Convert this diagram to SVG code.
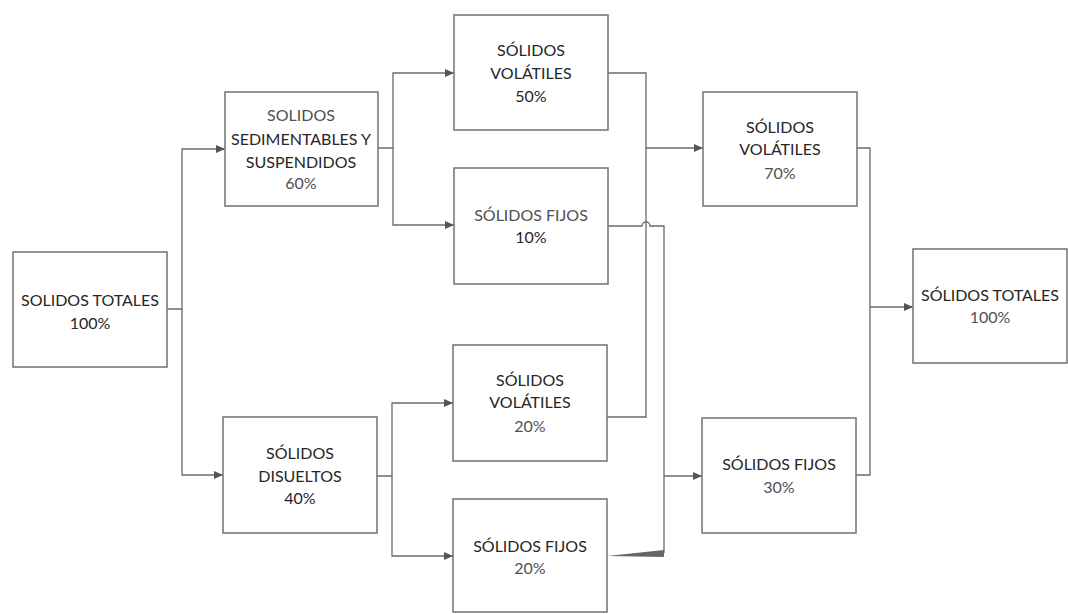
<svg xmlns="http://www.w3.org/2000/svg" width="1068" height="614" viewBox="0 0 1068 614">
<style>
.box{fill:#fff;stroke:#7a7a7a;stroke-width:1.6}
.t{font-family:Lato,"Noto Sans","Liberation Sans",sans-serif;font-size:16px;text-anchor:middle;fill:#262626}
.l{fill:#505050}
.c{fill:none;stroke:#6a6a6a;stroke-width:1.3}
</style>
<defs>
<marker id="ah" markerUnits="userSpaceOnUse" markerWidth="9" markerHeight="8" refX="9" refY="4" orient="auto">
<path d="M0,0 L9,4 L0,8 z" fill="#555"/>
</marker>
</defs>
<rect width="1068" height="614" fill="#fff"/>
<g id="connectors">
<path class="c" d="M167,309 H182 V149 H225" marker-end="url(#ah)"/>
<path class="c" d="M182,309 V475 H223" marker-end="url(#ah)"/>
<path class="c" d="M378,148 H393 V73 H454" marker-end="url(#ah)"/>
<path class="c" d="M393,148 V225 H454" marker-end="url(#ah)"/>
<path class="c" d="M377,476 H392 V403 H453" marker-end="url(#ah)"/>
<path class="c" d="M392,476 V556 H453" marker-end="url(#ah)"/>
<path class="c" d="M608,73 H646 V417 H607"/>
<path class="c" d="M646,148 H703" marker-end="url(#ah)"/>
<path class="c" d="M608,226 H642 a4,4 0 0 1 8,0 H664 V553"/>
<polygon points="607,556 664,550 664,557" fill="#666"/>
<path class="c" d="M664,476 H702" marker-end="url(#ah)"/>
<path class="c" d="M857,148 H870 V475 H856"/>
<path class="c" d="M870,307 H913" marker-end="url(#ah)"/>
</g>
<g id="n1"><rect class="box" x="13" y="252" width="154" height="115"/>
<text class="t" x="90" y="306">SOLIDOS TOTALES</text><text class="t" x="90" y="329">100%</text></g>
<g id="n2"><rect class="box" x="225" y="92" width="153" height="114"/>
<text class="t l" x="301" y="121">SOLIDOS</text><text class="t" x="301" y="145">SEDIMENTABLES Y</text><text class="t" x="301" y="168">SUSPENDIDOS</text><text class="t l" x="301" y="189">60%</text></g>
<g id="n3"><rect class="box" x="223" y="417" width="154" height="116"/>
<text class="t" x="300" y="459">SÓLIDOS</text><text class="t" x="300" y="482">DISUELTOS</text><text class="t" x="300" y="504">40%</text></g>
<g id="n4"><rect class="box" x="454" y="15" width="154" height="115"/>
<text class="t" x="531" y="56">SÓLIDOS</text><text class="t" x="531" y="79">VOLÁTILES</text><text class="t" x="531" y="102">50%</text></g>
<g id="n5"><rect class="box" x="454" y="168" width="154" height="116"/>
<text class="t l" x="531" y="221">SÓLIDOS FIJOS</text><text class="t" x="531" y="243">10%</text></g>
<g id="n6"><rect class="box" x="453" y="345" width="154" height="116"/>
<text class="t" x="530" y="386">SÓLIDOS</text><text class="t" x="530" y="408">VOLÁTILES</text><text class="t l" x="530" y="432">20%</text></g>
<g id="n7"><rect class="box" x="453" y="499" width="154" height="113"/>
<text class="t" x="530" y="552">SÓLIDOS FIJOS</text><text class="t l" x="530" y="574">20%</text></g>
<g id="n8"><rect class="box" x="703" y="92" width="154" height="114"/>
<text class="t" x="780" y="133">SÓLIDOS</text><text class="t" x="780" y="155">VOLÁTILES</text><text class="t l" x="780" y="179">70%</text></g>
<g id="n9"><rect class="box" x="702" y="418" width="154" height="115"/>
<text class="t" x="779" y="470">SÓLIDOS FIJOS</text><text class="t l" x="779" y="493">30%</text></g>
<g id="n10"><rect class="box" x="913" y="249" width="154" height="114"/>
<text class="t" x="990" y="301">SÓLIDOS TOTALES</text><text class="t l" x="990" y="323">100%</text></g>
</svg>
